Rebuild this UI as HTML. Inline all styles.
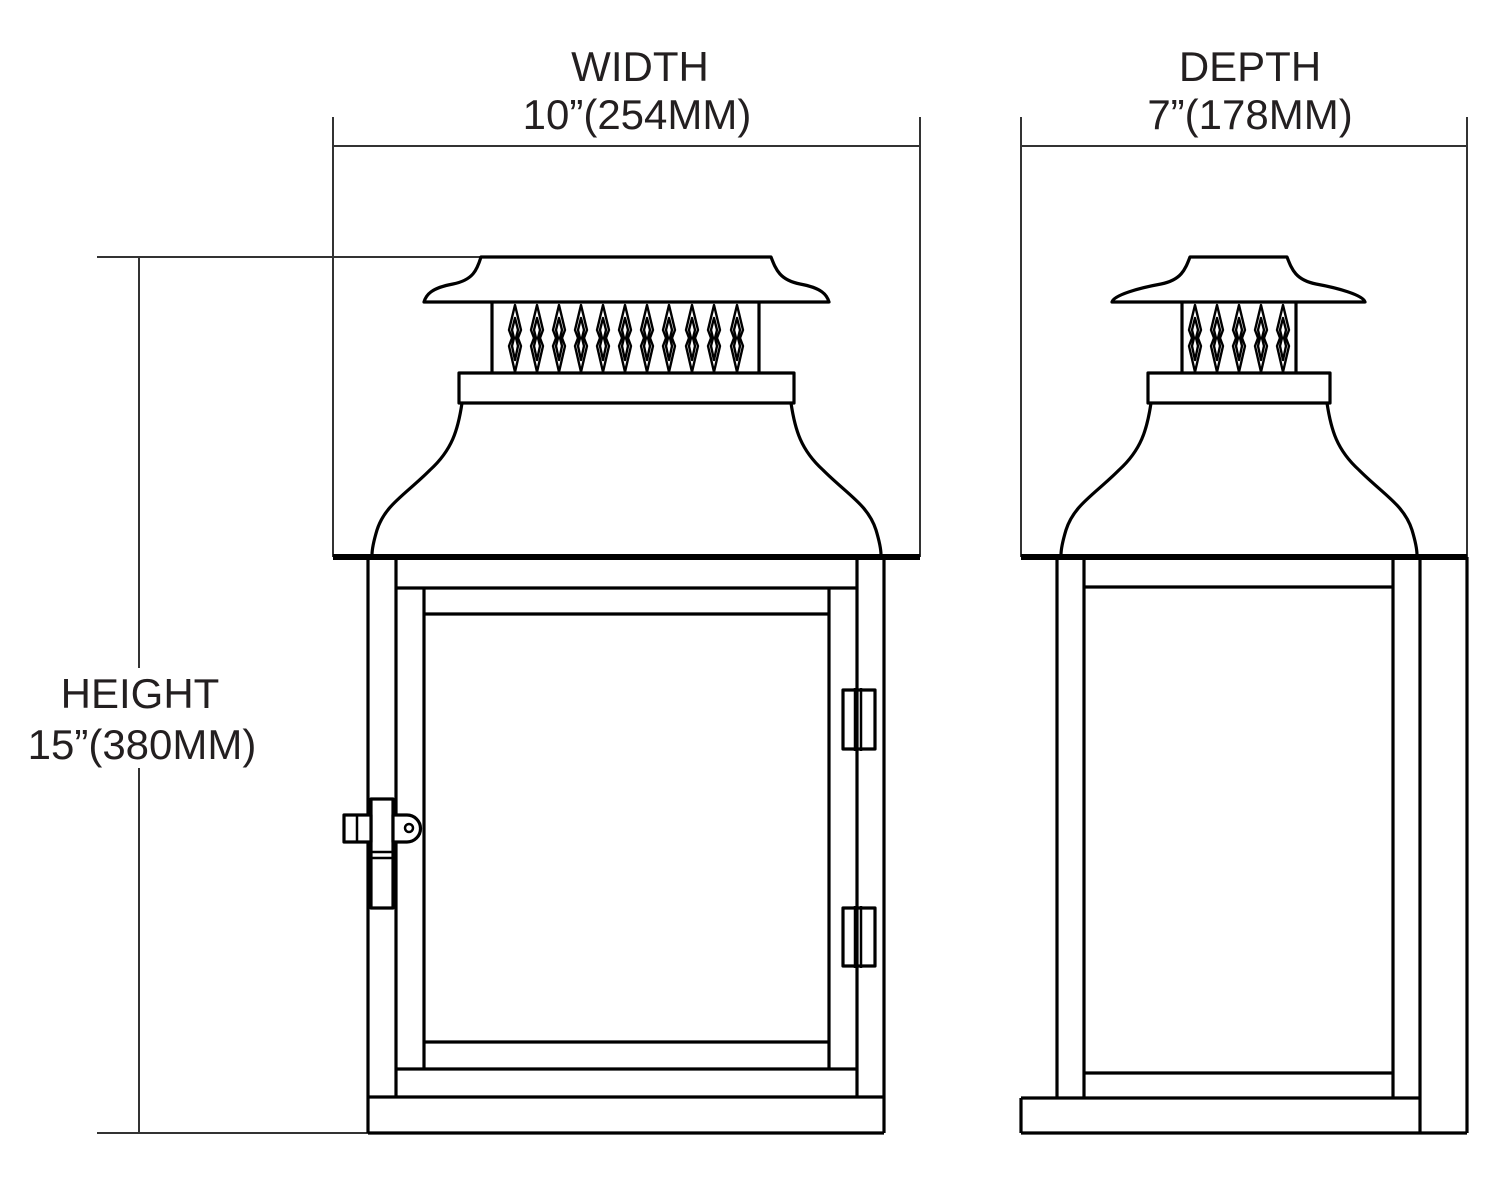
<!DOCTYPE html>
<html><head><meta charset="utf-8"><style>
html,body{margin:0;padding:0;background:#fff;}
svg{display:block;}
text{font-family:"Liberation Sans",Arial,sans-serif;font-size:42px;fill:#231f20;text-anchor:middle;}
</style></head><body>
<svg width="1500" height="1185" viewBox="0 0 1500 1185" xmlns="http://www.w3.org/2000/svg">
<defs>
<path id="d" d="M0 305L6 330L3 338L6 346L0 372L-6 346L-3 338L-6 330Z M0 318L3 330L1 338L3 346L0 360L-3 346L-1 338L-3 330Z"/>
</defs>
<g stroke="#333" stroke-width="2" fill="none">
<path d="M333 117V557M920 117V557M333 146H920"/>
<path d="M1021 117V557M1467 117V557M1021 146H1467"/>
<path d="M97 257H480M139 257V1133M97 1133H368"/>
</g>
<rect x="20" y="668" width="245" height="100" fill="#fff"/>
<text x="640" y="81">WIDTH</text>
<text x="637" y="129">10”(254MM)</text>
<text x="1250" y="81">DEPTH</text>
<text x="1250" y="129">7”(178MM)</text>
<text x="140" y="708">HEIGHT</text>
<text x="142" y="759">15”(380MM)</text>
<g stroke="#000" stroke-width="3.2" fill="none" stroke-linejoin="round">
<path d="M481 257H771C776 270 780 280 800 284C822 288 827 295 829 302H424C426 295 431 288 453 284C473 280 477 270 481 257Z"/>
<path d="M492 302V373M759 302V373"/>
<rect x="459" y="373" width="335" height="30"/>
<path d="M462 403C458 430 452 450 430 470C405 495 385 505 377 530C374 540 372 548 372 555M791 403C795 430 801 450 823 470C848 495 868 505 876 530C879 540 881 548 881 555"/>
<path d="M333 557H920" stroke-width="6"/>
<path d="M368 557V1133M396 557V1097M424 588V1069M829 588V1069M857 557V1097M884 557V1133"/>
<path d="M396 588H857M424 614H829M424 1042H829M396 1069H857M368 1097H884M368 1133H884"/>
<rect x="843" y="690" width="32" height="59"/>
<rect x="843" y="908" width="32" height="58"/>
<path d="M855 688V751M861 688V751M855 906V968M861 906V968" stroke-width="2.5"/>
<rect x="371" y="799" width="22" height="109" fill="#fff"/>
<path d="M371 852H393M371 858H393" stroke-width="2.5"/>
<rect x="344" y="815" width="27" height="27" fill="#fff"/>
<path d="M357 815V842" stroke-width="2.5"/>
<path d="M393 815H407A13.5 13.5 0 0 1 407 842H393Z" fill="#fff"/>
<circle cx="409" cy="828" r="4" stroke-width="2.5"/>
<path d="M1190 257H1287C1292 270 1296 280 1316 284C1338 288 1363 295 1365 302H1112C1114 295 1139 288 1161 284C1181 280 1185 270 1190 257Z"/>
<path d="M1182 302V373M1296 302V373"/>
<rect x="1148" y="373" width="182" height="30"/>
<path d="M1151 403C1147 430 1141 450 1119 470C1094 495 1074 505 1066 530C1063 540 1061 548 1061 555M1327 403C1331 430 1337 450 1359 470C1384 495 1404 505 1412 530C1415 540 1417 548 1417 555"/>
<path d="M1021 557H1467" stroke-width="6"/>
<path d="M1057 557V1098M1084 557V1098M1393 557V1098M1420 557V1133M1467 557V1133"/>
<path d="M1084 587H1393M1084 1073H1393M1021 1098H1420M1021 1133H1467M1021 1098V1133"/>
</g>
<g stroke="#000" stroke-width="2.4" fill="none" stroke-linejoin="round">
<use href="#d" x="515"/><use href="#d" x="537"/><use href="#d" x="559"/><use href="#d" x="581"/><use href="#d" x="603"/><use href="#d" x="625"/><use href="#d" x="647"/><use href="#d" x="669"/><use href="#d" x="692"/><use href="#d" x="714"/><use href="#d" x="737"/>
<use href="#d" x="1195"/><use href="#d" x="1217"/><use href="#d" x="1239"/><use href="#d" x="1261"/><use href="#d" x="1283"/>
</g>
</svg>
</body></html>
